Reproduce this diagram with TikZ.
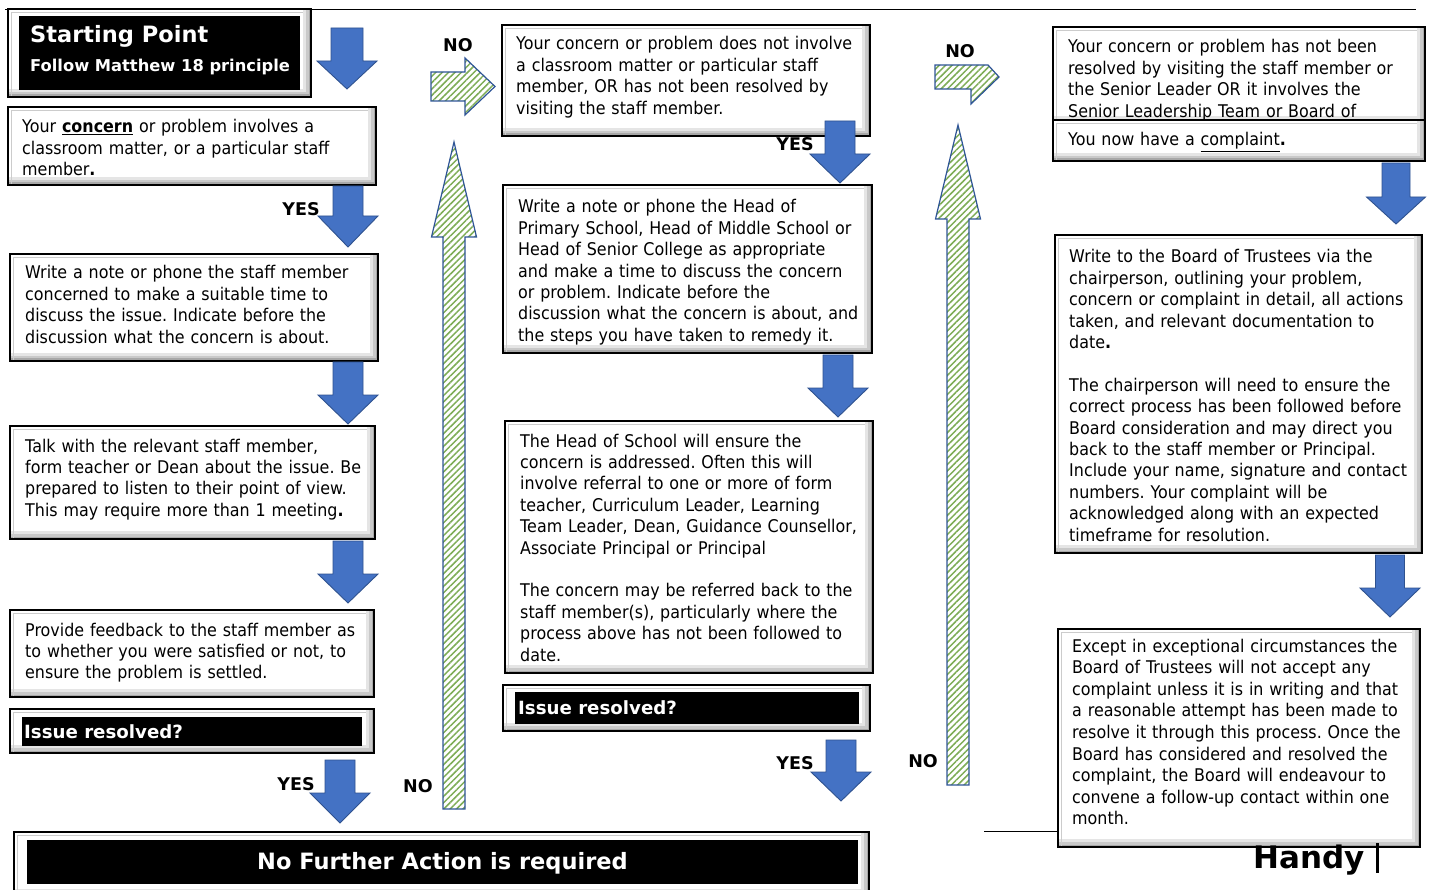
\documentclass[tikz,border=0pt]{standalone}
\usepackage{fontspec}
\setmainfont{DejaVu Sans}[FakeStretch=0.91]
\newfontfamily\lblfont{DejaVu Sans}
\frenchspacing
\usetikzlibrary{patterns.meta}
\definecolor{arrblue}{RGB}{68,114,196}
\definecolor{arrblueedge}{RGB}{47,82,143}
\definecolor{hatchgreen}{RGB}{125,172,85}
\definecolor{hatchedge}{RGB}{47,85,151}
\tikzset{
  bevel/.style={draw=black, line width=1.3pt, fill=white, rectangle, inner sep=0pt, outer sep=0pt,
    path picture={
      \fill[gray!20] ([xshift=-8pt]path picture bounding box.north east) rectangle (path picture bounding box.south east);
      \fill[gray!20] ([yshift=8pt]path picture bounding box.south west) rectangle (path picture bounding box.south east);
      \fill[gray!42] ([xshift=-5pt]path picture bounding box.north east) rectangle (path picture bounding box.south east);
      \fill[gray!42] ([yshift=5pt]path picture bounding box.south west) rectangle (path picture bounding box.south east);
      \fill[gray!68] ([xshift=-2.5pt]path picture bounding box.north east) rectangle (path picture bounding box.south east);
      \fill[gray!68] ([yshift=2.5pt]path picture bounding box.south west) rectangle (path picture bounding box.south east);
      \draw[gray!40, line width=0.6pt] ([xshift=3pt,yshift=-8pt]path picture bounding box.south west) -- ([xshift=3pt,yshift=-3pt]path picture bounding box.north west) -- ([xshift=-8pt,yshift=-3pt]path picture bounding box.north east);
    }},
  blackbar/.style={fill=black, inner sep=0pt, outer sep=0pt, rectangle},
  txt/.style={anchor=base west, inner sep=0pt, text width=420pt, align=left, font=\fontsize{17.5}{21.4}\selectfont},
  lbl/.style={inner sep=0pt, font=\lblfont\bfseries\fontsize{17.5}{20}\selectfont},
  bluearr/.style={fill=arrblue, draw=arrblueedge, line width=0.9pt, line join=miter},
  greenarr/.style={draw=hatchedge, line width=1.2pt, line join=miter, preaction={fill=white},
    pattern={Lines[angle=45,distance=4.5pt,line width=1.5pt]}, pattern color=hatchgreen},
}
\newcommand\bevelbox[6][]{\node[bevel,#1,minimum width={#4-#2},minimum height={#5-#3}] (#6) at ({(#2+#4)/2},{(#3+#5)/2}) {};}
\newcommand\blackin[5]{\node[blackbar,minimum width={#3-#1},minimum height={#4-#2}] (#5) at ({(#1+#3)/2},{(#2+#4)/2}) {};}
% cx, top, head start, tip, shaft half, head half
\newcommand\blkdown[6]{\filldraw[bluearr] ({#1-#5},#2) -- ({#1+#5},#2) -- ({#1+#5},#3) -- ({#1+#6},#3) -- (#1,#4) -- ({#1-#6},#3) -- ({#1-#5},#3) -- cycle;}
% cx, bottom, head base, tip, shaft half, head half
\newcommand\blkup[6]{\filldraw[greenarr] ({#1-#5},#2) -- ({#1-#5},#3) -- ({#1-#6},#3) -- (#1,#4) -- ({#1+#6},#3) -- ({#1+#5},#3) -- ({#1+#5},#2) -- cycle;}
\begin{document}
\begin{tikzpicture}[x=1pt,y=-1pt]
\useasboundingbox (0,0) rectangle (1432,890);
\fill[white] (0,0) rectangle (1432,890);
\clip (0,0) rectangle (1432,890);

% rules
\coordinate (rl) at (5,10); \coordinate (rr) at (1416,10);
\draw[line width=1pt] (rl) -- (rr);
\coordinate (bl) at (984,831); \coordinate (br) at (1060,831);
\draw[line width=1pt] (bl) -- (br);

% ---------- left column ----------
\bevelbox{8}{9}{311}{97}{start}
\blackin{19}{16}{300}{90}{startin}
\node[anchor=base west, inner sep=0pt, text=white, font=\lblfont\bfseries\fontsize{22.5}{24}\selectfont] (st1) at (30,43) {Starting Point};
\node[anchor=base west, inner sep=0pt, text=white, font=\lblfont\bfseries\fontsize{16.3}{18}\selectfont] (st2) at (30,72) {Follow Matthew 18 principle};

\bevelbox{8}{107}{376}{185}{b2}
\node[txt] (t2) at (22,133) {Your \underline{\textbf{concern}} or problem involves a\\classroom matter, or a particular staff\\member\textbf{.}};

\bevelbox{10}{254}{378}{361}{b3}
\node[txt] (t3) at (25,279) {Write a note or phone the staff member\\concerned to make a suitable time to\\discuss the issue. Indicate before the\\discussion what the concern is about.};

\bevelbox{10}{426}{375}{539}{b4}
\node[txt] (t4) at (25,452) {Talk with the relevant staff member,\\form teacher or Dean about the issue. Be\\prepared to listen to their point of view.\\This may require more than 1 meeting\textbf{.}};

\bevelbox{10}{610}{374}{697}{b5}
\node[txt] (t5) at (25,636) {Provide feedback to the staff member as\\to whether you were satisfied or not, to\\ensure the problem is settled.};

\bevelbox{10}{709}{374}{753}{b6}
\blackin{22}{717}{362}{746}{b6in}
\node[anchor=base west, inner sep=0pt, text=white, font=\lblfont\bfseries\fontsize{18.2}{20}\selectfont] (t6) at (24,738) {Issue resolved?};

\bevelbox{14}{832}{869}{897}{b7}
\blackin{27}{840}{858}{884}{b7in}
\node[anchor=base, inner sep=0pt, text=white, font=\lblfont\bfseries\fontsize{22.5}{24}\selectfont] (t7) at (442.5,869) {No Further Action is required};

% ---------- middle column ----------
\bevelbox{502}{25}{870}{136}{b8}
\node[txt] (t8) at (516,50) {Your concern or problem does not involve\\a classroom matter or particular staff\\member, OR has not been resolved by\\visiting the staff member.};

\bevelbox{503}{185}{872}{353}{b9}
\node[txt] (t9) at (518,213) {Write a note or phone the Head of\\Primary School, Head of Middle School or\\Head of Senior College as appropriate\\and make a time to discuss the concern\\or problem. Indicate before the\\discussion what the concern is about, and\\the steps you have taken to remedy it.};

\bevelbox{505}{421}{873}{673}{b10}
\node[txt] (t10) at (520,447) {The Head of School will ensure the\\concern is addressed. Often this will\\involve referral to one or more of form\\teacher, Curriculum Leader, Learning\\Team Leader, Dean, Guidance Counsellor,\\Associate Principal or Principal\\[21.4pt]The concern may be referred back to the\\staff member(s), particularly where the\\process above has not been followed to\\date.};

\bevelbox{503}{685}{870}{731}{b11}
\blackin{515}{692}{859}{724}{b11in}
\node[anchor=base west, inner sep=0pt, text=white, font=\lblfont\bfseries\fontsize{18.2}{20}\selectfont] (t11) at (518,714) {Issue resolved?};

% ---------- right column ----------
\bevelbox{1053}{27}{1425}{124}{b12}
\node[txt] (t12) at (1068,53) {Your concern or problem has not been\\resolved by visiting the staff member or\\the Senior Leader OR it involves the\\Senior Leadership Team or Board of};
\bevelbox{1053}{120}{1425}{161}{b12b}
\node[txt] (t12b) at (1068,146) {You now have a \underline{complaint}\textbf{.}};

\bevelbox{1055}{235}{1422}{553}{b13}
\node[txt] (t13) at (1069,263) {Write to the Board of Trustees via the\\chairperson, outlining your problem,\\concern or complaint in detail, all actions\\taken, and relevant documentation to\\date\textbf{.}\\[21.4pt]The chairperson will need to ensure the\\correct process has been followed before\\Board consideration and may direct you\\back to the staff member or Principal.\\Include your name, signature and contact\\numbers. Your complaint will be\\acknowledged along with an expected\\timeframe for resolution.};

\bevelbox{1058}{629}{1420}{847}{b14}
\node[txt, font=\fontsize{17.5}{21.6}\selectfont] (t14) at (1072,652) {Except in exceptional circumstances the\\Board of Trustees will not accept any\\complaint unless it is in writing and that\\a reasonable attempt has been made to\\resolve it through this process. Once the\\Board has considered and resolved the\\complaint, the Board will endeavour to\\convene a follow-up contact within one\\month.};

% ---------- blue arrows ----------
\blkdown{347}{28}{61}{89}{16}{30}
\blkdown{348}{186}{216}{247}{15}{30}
\blkdown{348}{362}{395}{424}{15}{30}
\blkdown{348}{541}{574}{603}{15}{30}
\blkdown{340}{760}{793}{823}{15}{30}
\blkdown{840}{121}{154}{183}{15}{30}
\blkdown{838}{355}{388}{417}{15}{30}
\blkdown{841}{740}{772}{801}{15}{30}
\blkdown{1396}{163}{197}{224}{14}{29.5}
\blkdown{1390}{555}{588}{617}{14.5}{30}

% ---------- green hatched arrows ----------
\filldraw[greenarr] (431,72) -- (465,72) -- (465,58) -- (495,86.5) -- (465,115) -- (465,101) -- (431,101) -- cycle;
\blkup{454}{809}{237}{142}{11}{22.5}
\filldraw[greenarr] (935,65) -- (988,65) -- (999,77) -- (971,104) -- (971,89) -- (935,89) -- cycle;
\blkup{958}{785}{219}{125}{11}{22.5}

% ---------- labels ----------
\node[lbl] (no1) at (458,45) {NO};
\node[lbl] (no2) at (418,786) {NO};
\node[lbl] (no3) at (960,51) {NO};
\node[lbl] (no4) at (923,761) {NO};
\node[lbl] (yes1) at (301,209) {YES};
\node[lbl] (yes2) at (795,144) {YES};
\node[lbl] (yes3) at (296,784) {YES};
\node[lbl] (yes4) at (795,763) {YES};

% ---------- footer ----------
\node[anchor=base west, inner sep=0pt, font=\lblfont\bfseries\fontsize{31}{32}\selectfont] (handy) at (1253,868) {Handy};
\coordinate (bart) at (1377,843); \coordinate (barb) at (1377,873);
\draw[line width=3pt] (bart) -- (barb);
\end{tikzpicture}
\end{document}
